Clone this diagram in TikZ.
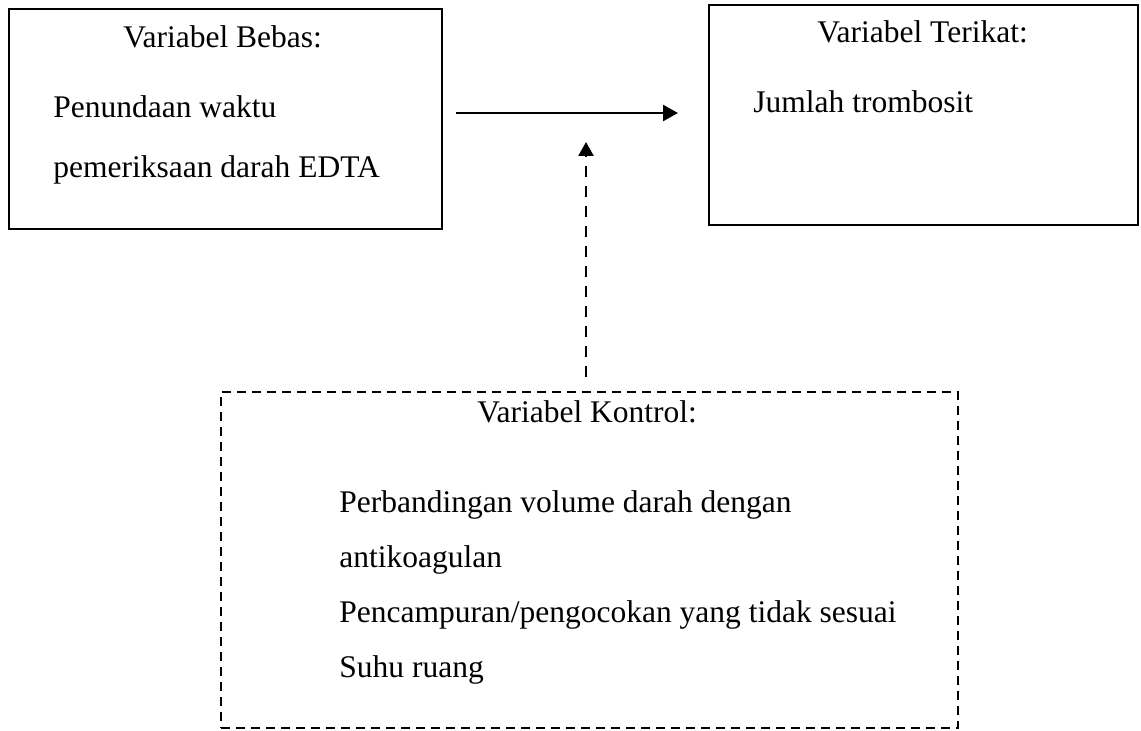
\documentclass[tikz,border=0pt]{standalone}
\usepackage{fontspec}
\setmainfont{Liberation Serif}
\usetikzlibrary{arrows.meta}
\begin{document}
\begin{tikzpicture}[x=0.5pt,y=-0.5pt,
  every node/.style={font=\fontsize{15.75pt}{18pt}\selectfont},
  box/.style={draw, line width=1pt, inner sep=0pt},
  dbox/.style={draw, line width=0.7pt, dash pattern=on 4.5pt off 3pt, inner sep=0pt},
  txt/.style={anchor=base west, inner sep=0pt},
  arr/.style={line width=1.25pt, -{Triangle[length=7.5pt,width=8pt]}},
  darr/.style={line width=1.25pt, dash pattern=on 5.5pt off 4.5pt, -{Triangle[length=7pt,width=7.5pt]}}]
\useasboundingbox (0,0) rectangle (1141,731);
% boxes
\node[box, minimum width=216.5pt, minimum height=110pt] (bebas) at (225.5,119) {};
\node[box, minimum width=214.5pt, minimum height=110pt] (terikat) at (923.5,115) {};
\node[dbox, minimum width=368.5pt, minimum height=168pt] (kontrol) at (589.5,560) {};
% texts
\node[txt] (t1) at (123,48) {Variabel Bebas:};
\node[txt] (t2) at (53,118) {Penundaan waktu};
\node[txt] (t3) at (53,178) {pemeriksaan darah EDTA};
\node[txt] (t4) at (817,43) {Variabel Terikat:};
\node[txt] (t5) at (753,113) {Jumlah trombosit};
\node[txt] (t6) at (477,423) {Variabel Kontrol:};
\node[txt] (t7) at (339,513) {Perbandingan volume darah dengan};
\node[txt] (t8) at (339,568) {antikoagulan};
\node[txt] (t9) at (339,623) {Pencampuran/pengocokan yang tidak sesuai};
\node[txt] (t10) at (339,678) {Suhu ruang};
% connectors
\coordinate (h1) at (456,113);
\coordinate (h2) at (678,113);
\coordinate (v1) at (586,377);
\coordinate (v2) at (586,142);
\draw[arr] (h1) -- (h2);
\draw[darr] (v1) -- (v2);
\end{tikzpicture}
\end{document}
